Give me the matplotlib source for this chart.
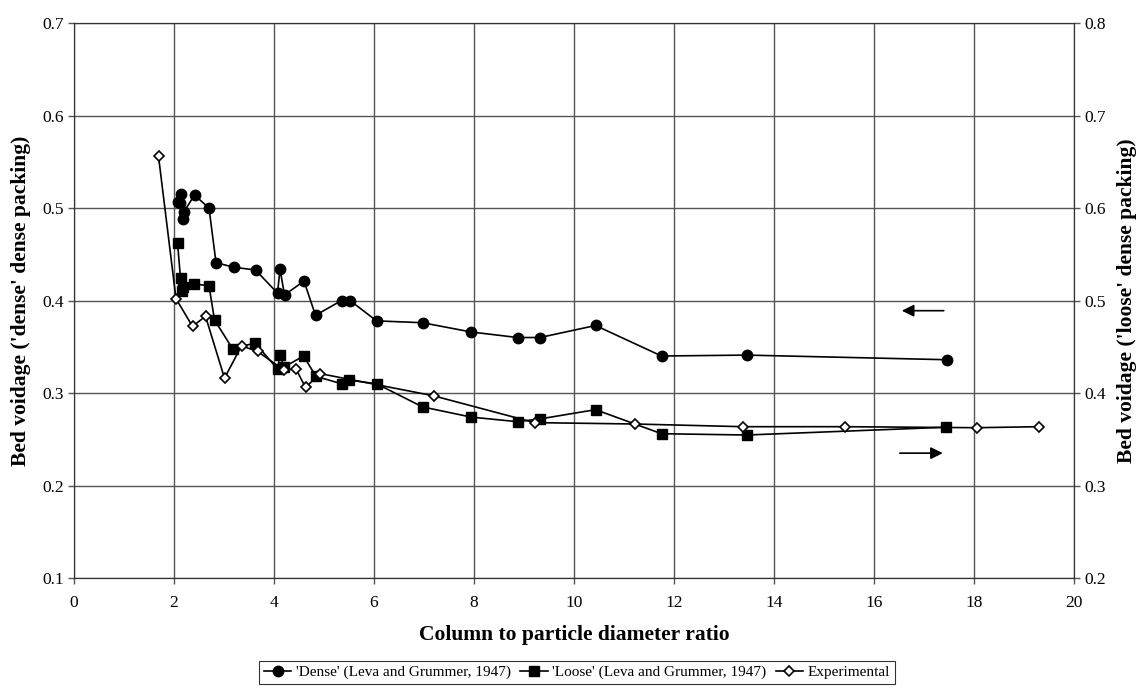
import matplotlib
matplotlib.use("Agg")
import numpy as np
from matplotlib import pyplot as plt

# column to particle diameter ratio / bed voidage
dense_x = [2.07, 2.11, 2.14, 2.17, 2.20, 2.41, 2.70, 2.84, 3.19, 3.63, 4.07, 4.12, 4.21,
           4.60, 4.83, 5.35, 5.52, 6.05, 6.97, 7.94, 8.87, 9.32, 10.43, 11.75, 13.45, 17.45]
dense_y = [0.507, 0.505, 0.515, 0.488, 0.496, 0.514, 0.500, 0.441, 0.436, 0.433, 0.408, 0.434, 0.406,
           0.421, 0.384, 0.400, 0.400, 0.378, 0.376, 0.366, 0.360, 0.360, 0.373, 0.340, 0.341, 0.336]

# 'loose' values on the right hand axis
loose_x = [2.07, 2.13, 2.15, 2.17, 2.39, 2.70, 2.81, 3.17, 3.62, 4.07, 4.12, 4.20, 4.59,
           4.84, 5.35, 5.49, 6.05, 6.97, 7.94, 8.87, 9.32, 10.43, 11.75, 13.45, 17.44]
loose_y = [0.5625, 0.524, 0.510, 0.515, 0.518, 0.516, 0.479, 0.448, 0.454, 0.426, 0.441, 0.428, 0.440,
           0.418, 0.410, 0.414, 0.410, 0.385, 0.374, 0.369, 0.372, 0.382, 0.356, 0.3546, 0.363]

exp_x = [1.69, 2.04, 2.37, 2.63, 3.01, 3.35, 3.67, 4.19, 4.44, 4.63, 4.92, 7.19, 9.21,
         11.22, 13.37, 15.41, 18.05, 19.30]
exp_y = [0.656, 0.502, 0.472, 0.483, 0.416, 0.451, 0.445, 0.425, 0.426, 0.406, 0.421, 0.397, 0.368,
         0.3665, 0.3636, 0.3636, 0.3625, 0.3636]

serif = ["Liberation Serif", "DejaVu Serif"]
plt.rcParams['font.family'] = serif

fig = plt.figure(figsize=(11.42, 6.91), dpi=100)
ax = fig.add_axes([0.0648, 0.1635, 0.8757, 0.8032])
ax2 = ax.twinx()

l1, = ax.plot(dense_x, dense_y, color="black", lw=1.2, marker="o", ms=7.5,
              label="'Dense' (Leva and Grummer, 1947)")
l2, = ax2.plot(loose_x, loose_y, color="black", lw=1.2, marker="s", ms=6.5,
               label="'Loose' (Leva and Grummer, 1947)")
l3, = ax2.plot(exp_x, exp_y, color="black", lw=1.2, marker="D", ms=5.5, mfc="white",
               mec="black", mew=1.2, label="Experimental")

ax.set_xlim(0, 20)
ax.set_ylim(0.1, 0.7)
ax2.set_ylim(0.2, 0.8)
ax.set_xticks(np.arange(0, 21, 2))
ax.set_yticks(np.arange(0.1, 0.71, 0.1))
ax2.set_yticks(np.arange(0.2, 0.81, 0.1))
ax.yaxis.set_major_formatter(matplotlib.ticker.FormatStrFormatter("%.1f"))
ax2.yaxis.set_major_formatter(matplotlib.ticker.FormatStrFormatter("%.1f"))

ax.grid(True, color="#555555", lw=1.0)
ax.set_axisbelow(True)
for a in (ax, ax2):
    a.tick_params(labelsize=12.5, length=4, color="#555555", width=1)
    for s in a.spines.values():
        s.set_color("#333333")
ax.tick_params(axis="x", pad=8)

lab = dict(fontsize=15.5, fontweight="bold")
ax.set_xlabel("Column to particle diameter ratio", labelpad=10, **lab)
ax.set_ylabel("Bed voidage ('dense' dense packing)", labelpad=8, **lab)
ax2.set_ylabel("Bed voidage ('loose' dense packing)", labelpad=8, **lab)

# arrows pointing to the axis for each curve
ax.annotate("", xy=(16.5, 0.389), xytext=(17.45, 0.389),
            arrowprops=dict(arrowstyle="-|>", color="black", lw=1.2, mutation_scale=18))
ax.annotate("", xy=(17.43, 0.235), xytext=(16.46, 0.235),
            arrowprops=dict(arrowstyle="-|>", color="black", lw=1.2, mutation_scale=18))

leg = ax.legend(handles=[l1, l2, l3], loc="upper center", bbox_to_anchor=(0.503, -0.135),
                ncol=3, fontsize=11, frameon=True, fancybox=False, handlelength=1.8,
                handletextpad=0.3, columnspacing=0.6, borderpad=0.3)
leg.get_frame().set_edgecolor("black")
leg.get_frame().set_linewidth(0.8)

fig.savefig("out.png", dpi=100)
